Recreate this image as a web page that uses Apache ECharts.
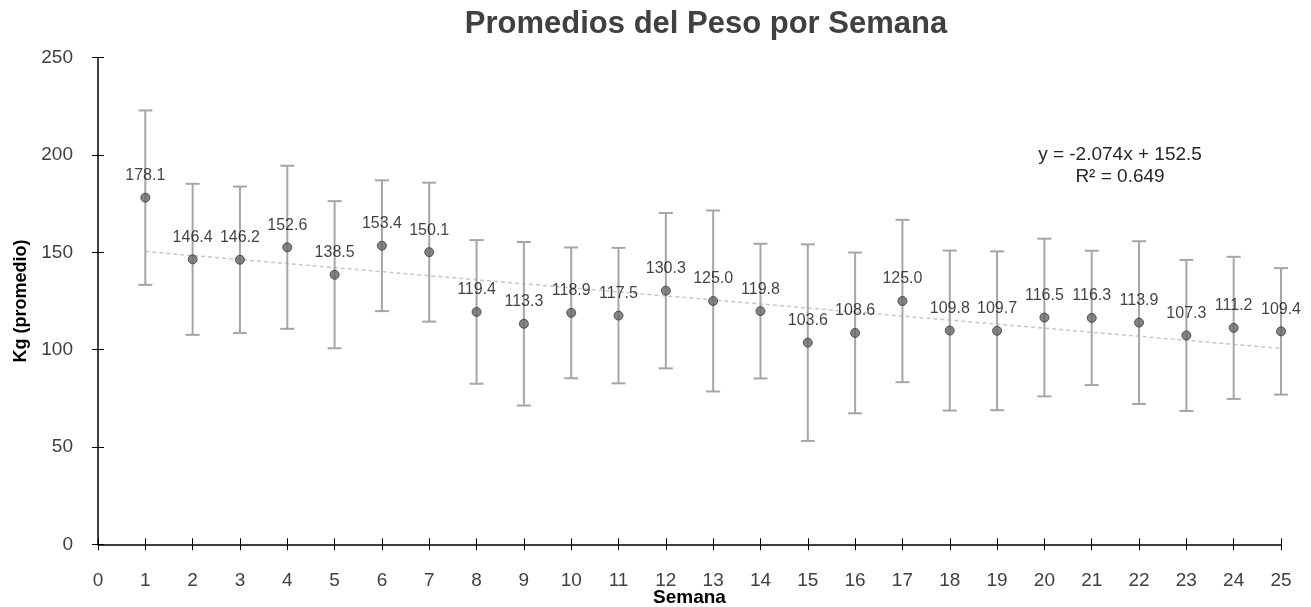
<!DOCTYPE html>
<html>
<head>
<meta charset="utf-8">
<script src="https://cdn.jsdelivr.net/npm/echarts@6/dist/echarts.min.js"></script>
<style>
  html, body { margin: 0; padding: 0; background: #fff; }
  #chart { width: 1311px; height: 607px; }
</style>
</head>
<body>
<div id="chart"></div>
<script>
// Weekly mean weight (kg) and its standard deviation
const weeks = [1, 2, 3, 4, 5, 6, 7, 8, 9, 10, 11, 12, 13, 14, 15, 16, 17, 18, 19, 20, 21, 22, 23, 24, 25];
const means = [178.1, 146.4, 146.2, 152.6, 138.5, 153.4, 150.1, 119.4, 113.3, 118.9, 117.5, 130.3, 125.0,
               119.8, 103.6, 108.6, 125.0, 109.8, 109.7, 116.5, 116.3, 113.9, 107.3, 111.2, 109.4];
const stdDevs = [44.8, 38.8, 37.6, 41.9, 37.8, 33.6, 35.7, 36.9, 42.0, 33.6, 34.8, 39.9, 46.5,
                 34.6, 50.5, 41.3, 41.7, 41.1, 40.8, 40.5, 34.5, 41.8, 38.8, 36.5, 32.5];

// Linear trend fitted to the weekly means
const trendSlope = -2.074;
const trendIntercept = 152.5;
const trendR2 = 0.649;

const xTicks = [0, 25];
const yTicks = [0, 250];

const FONT = '"Liberation Sans", Arial, sans-serif';

const pointData = weeks.map((w, i) => [w, means[i]]);
const errorData = weeks.map((w, i) => [w, means[i] - stdDevs[i], means[i] + stdDevs[i]]);
const trendData = [weeks[0], weeks[weeks.length - 1]].map(x => [x, trendSlope * x + trendIntercept]);

const chart = echarts.init(document.getElementById('chart'), null, { renderer: 'canvas' });

// Second axis pair only draws the inner half of each tick so ticks cross the axis line
const hiddenOverlayAxis = {
  show: true,
  axisLine: { show: false },
  axisLabel: { show: false },
  splitLine: { show: false },
  axisTick: { show: true, inside: true, length: 6, lineStyle: { color: '#000', width: 1 } }
};

chart.setOption({
  animation: false,
  backgroundColor: '#ffffff',
  title: {
    text: 'Promedios del Peso por Semana',
    left: 701,
    top: 4,
    textAlign: 'center',
    textStyle: { fontFamily: FONT, fontSize: 31, fontWeight: 'bold', color: '#404040' }
  },
  grid: { left: 98, right: 30, top: 57.7, bottom: 62.7, containLabel: false, outerBoundsMode: 'none' },
  xAxis: [
    {
      type: 'value', min: xTicks[0], max: xTicks[1], interval: 1,
      name: 'Semana', nameLocation: 'middle', nameGap: 44, nameMoveOverlap: false,
      nameTextStyle: { fontFamily: FONT, fontSize: 19, fontWeight: 'bold', color: '#000' },
      axisLine: { show: true, onZero: false, lineStyle: { color: '#000', width: 1.5 } },
      axisTick: { show: true, inside: false, length: 6, lineStyle: { color: '#000', width: 1 } },
      axisLabel: { fontFamily: FONT, fontSize: 19, color: '#404040', margin: 27 },
      splitLine: { show: false }
    },
    Object.assign({ type: 'value', min: xTicks[0], max: xTicks[1], interval: 1, position: 'bottom', offset: 0 }, hiddenOverlayAxis)
  ],
  yAxis: [
    {
      type: 'value', min: yTicks[0], max: yTicks[1], interval: 50,
      name: 'Kg (promedio)', nameLocation: 'middle', nameGap: 68, nameMoveOverlap: false,
      nameTextStyle: { fontFamily: FONT, fontSize: 18, fontWeight: 'bold', color: '#000' },
      axisLine: { show: true, onZero: false, lineStyle: { color: '#000', width: 1.5 } },
      axisTick: { show: true, inside: false, length: 6, lineStyle: { color: '#000', width: 1 } },
      axisLabel: { fontFamily: FONT, fontSize: 19, color: '#404040', margin: 25 },
      splitLine: { show: false }
    },
    Object.assign({ type: 'value', min: yTicks[0], max: yTicks[1], interval: 50, position: 'left', offset: 0 }, hiddenOverlayAxis)
  ],
  series: [
    {
      name: 'Tendencia',
      type: 'line',
      data: trendData,
      symbol: 'none',
      silent: true,
      lineStyle: { color: '#c8c8c8', width: 1.5, type: [4, 3] },
      z: 1
    },
    {
      name: 'Desviación',
      type: 'custom',
      data: errorData,
      z: 2,
      renderItem: function (params, api) {
        const x = api.value(0);
        const low = api.coord([x, api.value(1)]);
        const high = api.coord([x, api.value(2)]);
        const half = 7;
        const style = { stroke: '#a6a6a6', lineWidth: 2 };
        return {
          type: 'group',
          children: [
            { type: 'line', shape: { x1: high[0], y1: high[1], x2: low[0], y2: low[1] }, style: style },
            { type: 'line', shape: { x1: high[0] - half, y1: high[1], x2: high[0] + half, y2: high[1] }, style: style },
            { type: 'line', shape: { x1: low[0] - half, y1: low[1], x2: low[0] + half, y2: low[1] }, style: style }
          ]
        };
      }
    },
    {
      name: 'Promedio',
      type: 'scatter',
      data: pointData,
      symbol: 'circle',
      symbolSize: 9,
      z: 3,
      itemStyle: { color: '#666666', borderColor: '#3a3a3a', borderWidth: 1 },
      label: {
        show: true,
        position: 'top',
        distance: 9,
        fontFamily: FONT,
        fontSize: 16,
        color: '#111111',
        formatter: p => p.value[1].toFixed(1)
      }
    }
  ],
  graphic: [
    {
      type: 'text',
      left: 1120 - 100,
      top: 144,
      style: {
        text: 'y = -' + Math.abs(trendSlope).toFixed(3) + 'x + ' + trendIntercept.toFixed(1) + '\nR² = ' + trendR2.toFixed(3),
        textAlign: 'center',
        width: 200,
        fontFamily: FONT,
        fontSize: 19,
        lineHeight: 22,
        fill: '#262626'
      }
    }
  ]
});
</script>
</body>
</html>
